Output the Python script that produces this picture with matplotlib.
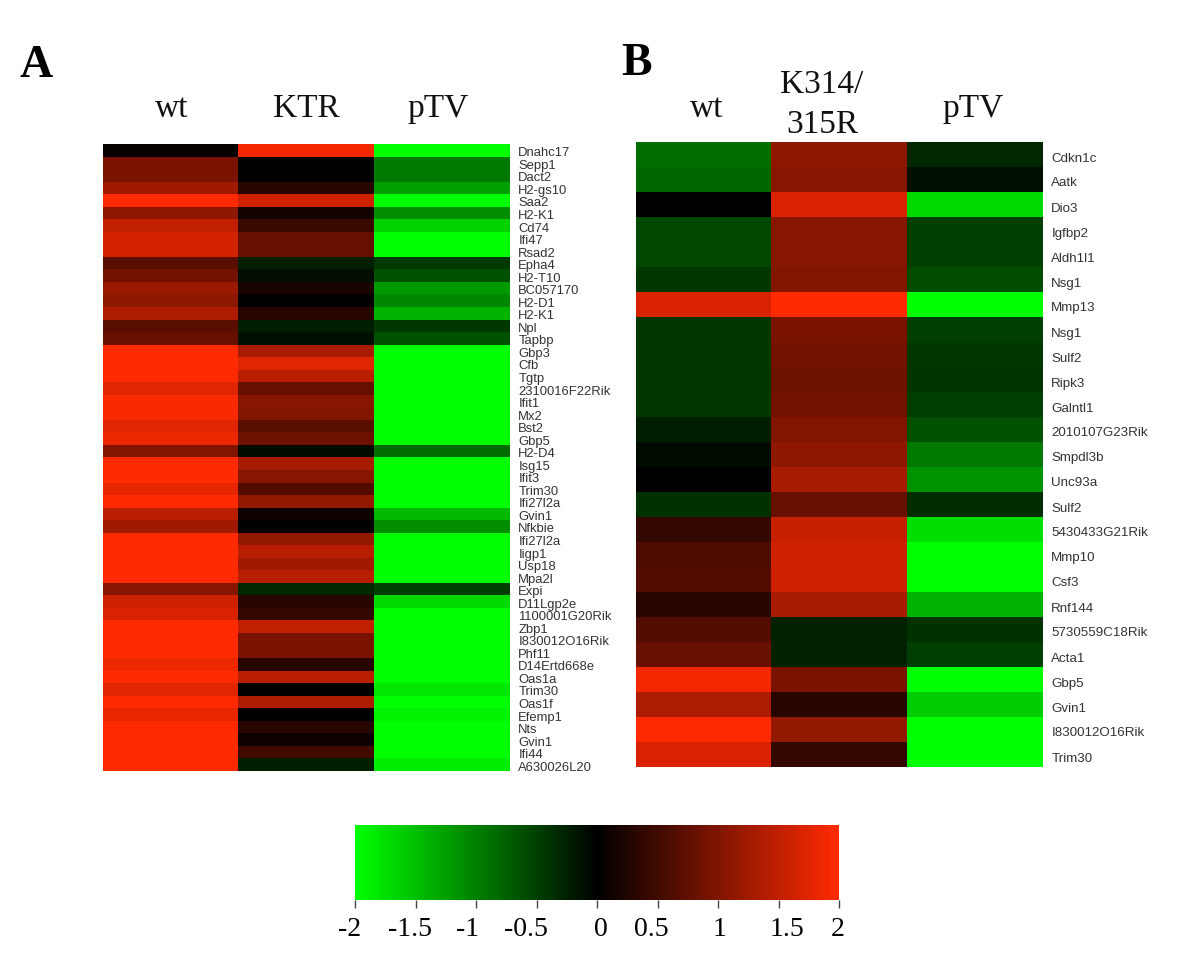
import numpy as np
import matplotlib
matplotlib.use('Agg')
import matplotlib.pyplot as plt
from matplotlib.colors import LinearSegmentedColormap, Normalize
from matplotlib.cm import ScalarMappable
from matplotlib.transforms import ScaledTranslation

W, H = 1200, 956

# panel A
genes_a = ['Dnahc17', 'Sepp1', 'Dact2', 'H2-gs10', 'Saa2', 'H2-K1', 'Cd74', 'Ifi47', 'Rsad2', 'Epha4',
           'H2-T10', 'BC057170', 'H2-D1', 'H2-K1', 'Npl', 'Tapbp', 'Gbp3', 'Cfb', 'Tgtp', '2310016F22Rik',
           'Ifit1', 'Mx2', 'Bst2', 'Gbp5', 'H2-D4', 'Isg15', 'Ifit3', 'Trim30', 'Ifi27l2a', 'Gvin1',
           'Nfkbie', 'Ifi27l2a', 'Iigp1', 'Usp18', 'Mpa2l', 'Expi', 'D11Lgp2e', '1100001G20Rik', 'Zbp1', 'I830012O16Rik',
           'Phf11', 'D14Ertd668e', 'Oas1a', 'Trim30', 'Oas1f', 'Efemp1', 'Nts', 'Gvin1', 'Ifi44', 'A630026L20']
wt_a = [0.05, 0.95, 0.95, 1.25, 2, 1.1, 1.5, 1.65, 1.65, 0.7,
        0.9, 1.2, 1.1, 1.35, 0.7, 0.8, 2, 2, 2, 1.75,
        1.95, 1.95, 1.75, 1.85, 1.0, 2, 2, 1.8, 2, 1.45,
        1.25, 2, 2, 2, 2, 1.05, 1.6, 1.7, 2, 2,
        2, 1.85, 2, 1.75, 2, 1.8, 2, 2, 2, 2]
ktr_a = [1.9, 0, 0, 0.3, 1.6, 0.15, 0.45, 0.8, 0.8, -0.25,
         -0.1, 0.2, 0, 0.3, -0.25, -0.13, 1.3, 1.75, 1.45, 0.8,
         1.05, 1.0, 0.7, 0.85, -0.08, 1.3, 1.05, 0.65, 1.15, 0.1,
         0, 1.15, 1.45, 1.25, 1.45, -0.3, 0.3, 0.4, 1.5, 0.95,
         0.95, 0.3, 1.45, 0, 1.35, 0, 0.3, 0.1, 0.5, -0.25]
ptv_a = [-2, -0.95, -0.95, -1.25, -2, -1.1, -1.65, -2, -2, -0.45,
         -0.65, -1.2, -1.05, -1.4, -0.45, -0.65, -2, -2, -2, -2,
         -2, -2, -2, -2, -0.85, -2, -2, -2, -2, -1.45,
         -1.1, -2, -2, -2, -2, -0.5, -1.7, -2, -2, -2,
         -2, -2, -2, -1.8, -2, -1.9, -2, -2, -2, -1.85]

# panel B
genes_b = ['Cdkn1c', 'Aatk', 'Dio3', 'Igfbp2', 'Aldh1l1', 'Nsg1', 'Mmp13', 'Nsg1', 'Sulf2', 'Ripk3',
           'Galntl1', '2010107G23Rik', 'Smpdl3b', 'Unc93a', 'Sulf2', '5430433G21Rik', 'Mmp10', 'Csf3', 'Rnf144',
           '5730559C18Rik', 'Acta1', 'Gbp5', 'Gvin1', 'I830012O16Rik', 'Trim30']
wt_b = [-0.85, -0.8, 0.03, -0.55, -0.55, -0.45, 1.7, -0.45, -0.45, -0.45,
        -0.45, -0.25, -0.08, 0, -0.4, 0.4, 0.6, 0.65, 0.3,
        0.65, 0.8, 1.9, 1.35, 2, 1.7]
k314_b = [1.1, 1.05, 1.7, 1.05, 1.05, 1.0, 2, 0.95, 0.9, 0.85,
          0.9, 1.0, 1.1, 1.3, 0.8, 1.55, 1.6, 1.6, 1.3,
          -0.28, -0.28, 0.95, 0.3, 1.15, 0.4]
ptv_b = [-0.3, -0.12, -1.7, -0.5, -0.5, -0.6, -2, -0.5, -0.45, -0.42,
         -0.48, -0.65, -0.95, -1.15, -0.35, -1.75, -2, -2, -1.4,
         -0.4, -0.5, -2, -1.6, -2, -2]

cbar_ticks = [-2, -1.5, -1, -0.5, 0, 0.5, 1, 1.5, 2]
cbar_labels = ['-2', '-1.5', '-1', '-0.5', '0', '0.5', '1', '1.5', '2']
# the labels in the key do not sit quite under their ticks
cbar_label_dx = [-5, -5.5, -8, -11, 4, -6, 2, 8, -1.5]

cmap = LinearSegmentedColormap.from_list('gbr', ['#00ff00', '#000000', '#ff2a00'], N=256)
norm = Normalize(vmin=-2, vmax=2)

SERIF = 'Liberation Serif'
SANS = 'Liberation Sans'


def px_axes(fig, x0, y0, x1, y1):
    # pixel box measured from the top left of the image
    return fig.add_axes([x0 / W, 1 - y1 / H, (x1 - x0) / W, (y1 - y0) / H])


def shift_px(fig, label, dx, dy):
    label.set_transform(label.get_transform() + ScaledTranslation(dx / 100, dy / 100, fig.dpi_scale_trans))


def heatmap(fig, box, columns, genes, fontsize, drop):
    ax = px_axes(fig, *box)
    data = np.array(columns).T
    ax.imshow(data, cmap=cmap, norm=norm, aspect='auto', interpolation='nearest')
    ax.set_xticks([])
    ax.yaxis.tick_right()
    ax.set_yticks(range(len(genes)))
    ax.set_yticklabels(genes, fontsize=fontsize, family=SANS, color='#333333')
    ax.tick_params(axis='y', length=0, pad=6)
    for t in ax.get_yticklabels():
        shift_px(fig, t, 0, -drop)
    for s in ax.spines.values():
        s.set_visible(False)
    return ax


fig = plt.figure(figsize=(W / 100, H / 100), dpi=100)

heatmap(fig, (103, 144, 510, 771), [wt_a, ktr_a, ptv_a], genes_a, 9.4, 1.5)
heatmap(fig, (636, 142, 1043, 767), [wt_b, k314_b, ptv_b], genes_b, 9.6, 2.5)

# panel letters and column heads
fig.text(36 / W, 1 - 77 / H, 'A', family=SERIF, fontsize=33, fontweight='bold', ha='center', va='baseline')
fig.text(637 / W, 1 - 75 / H, 'B', family=SERIF, fontsize=33, fontweight='bold', ha='center', va='baseline')
for x, y, s in [(172, 117, 'wt'), (306, 117, 'KTR'), (438, 117, 'pTV'),
                (707, 117, 'wt'), (822, 93, 'K314/'), (822, 133, '315R'), (973, 117, 'pTV')]:
    fig.text(x / W, 1 - y / H, s, family=SERIF, fontsize=24, ha='center', va='baseline', color='#111111')

# colour key
cax = px_axes(fig, 355, 825, 839, 900)
cb = fig.colorbar(ScalarMappable(norm=norm, cmap=cmap), cax=cax, orientation='horizontal')
cb.set_ticks(cbar_ticks)
cb.set_ticklabels(cbar_labels)
cb.outline.set_visible(False)
cax.tick_params(axis='x', length=6, width=1, color='#444444', pad=6, labelsize=20)
for t, dx in zip(cax.get_xticklabels(), cbar_label_dx):
    t.set_family(SERIF)
    shift_px(fig, t, dx, 0)

fig.savefig('out.png', dpi=100)
